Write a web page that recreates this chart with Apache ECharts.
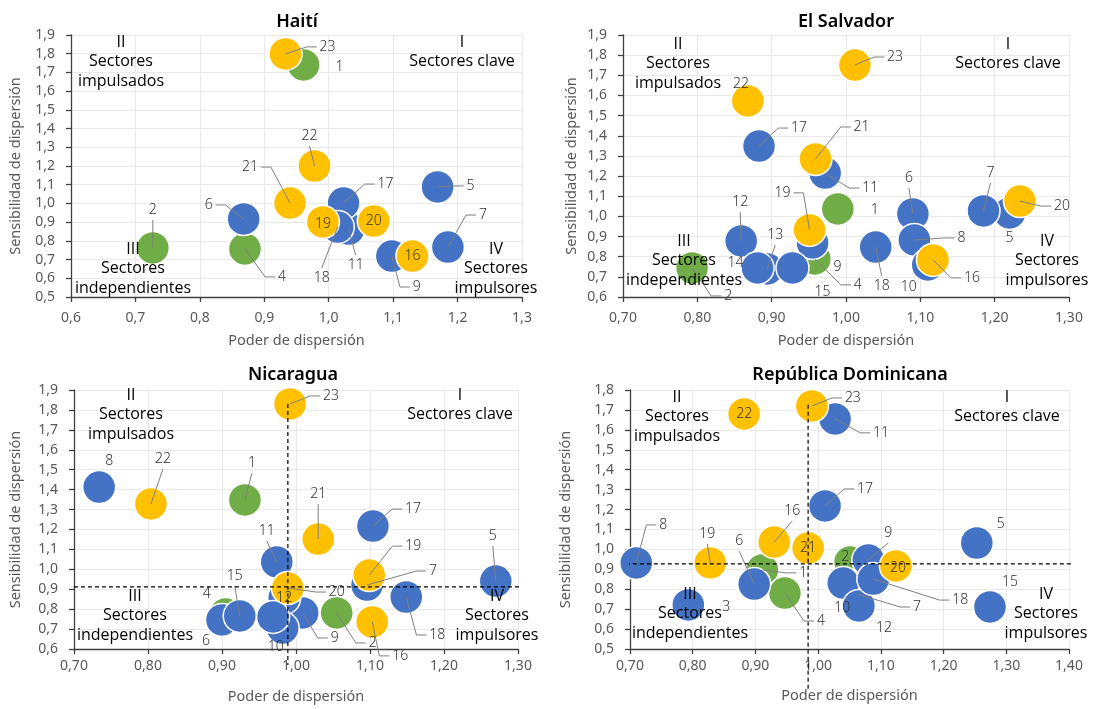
<!DOCTYPE html>
<html><head><meta charset="utf-8">
<script src="https://cdn.jsdelivr.net/npm/echarts@6/dist/echarts.min.js"></script>
<style>html,body{margin:0;padding:0;background:#fff}#c{width:1094px;height:709px}</style>
</head><body><div id="c"></div>
<script>
// ---------------- DATA ----------------
const greenSectors = [1, 2, 4];
const yellowSectors = [16, 19, 20, 21, 22, 23];

const haitiSector = [1, 2, 4, 5, 6, 7, 9, 11, 16, 17, 18, 19, 20, 21, 22, 23];
const haitiX = [0.961, 0.727, 0.870, 1.169, 0.868, 1.185, 1.098, 1.031, 1.130, 1.023, 1.014, 0.991, 1.070, 0.940, 0.978, 0.933];
const haitiY = [1.740, 0.762, 0.757, 1.088, 0.917, 0.767, 0.719, 0.863, 0.719, 1.002, 0.874, 0.901, 0.906, 1.002, 1.200, 1.799];

const salvSector = [1, 2, 4, 5, 6, 7, 8, 9, 10, 11, 12, 13, 14, 15, 16, 17, 18, 19, 20, 21, 22, 23];
const salvX = [0.989, 0.793, 0.958, 1.220, 1.090, 1.185, 1.092, 0.955, 1.110, 0.972, 0.859, 0.894, 0.881, 0.928, 1.117, 0.883, 1.040, 0.951, 1.234, 0.959, 0.868, 1.012];
const salvY = [1.037, 0.744, 0.789, 1.017, 1.012, 1.027, 0.883, 0.868, 0.759, 1.215, 0.878, 0.739, 0.744, 0.744, 0.784, 1.349, 0.848, 0.933, 1.076, 1.285, 1.573, 1.751];

const nicSector = [1, 2, 4, 5, 6, 7, 8, 9, 10, 11, 12, 14, 15, 16, 17, 18, 19, 20, 21, 22, 23];
const nicX = [0.931, 1.055, 0.905, 1.270, 0.900, 1.096, 0.734, 1.009, 0.982, 0.974, 0.984, 0.969, 0.924, 1.103, 1.104, 1.149, 1.099, 0.989, 1.030, 0.804, 0.992];
const nicY = [1.348, 0.781, 0.776, 0.941, 0.746, 0.921, 1.413, 0.781, 0.705, 1.037, 0.856, 0.761, 0.766, 0.736, 1.217, 0.861, 0.971, 0.906, 1.152, 1.328, 1.830];
const nicAvg = [0.989, 0.912];

const rdSector = [1, 2, 3, 4, 5, 6, 7, 8, 9, 10, 11, 12, 15, 16, 17, 18, 19, 20, 21, 22, 23];
const rdX = [0.911, 1.051, 0.793, 0.947, 1.253, 0.898, 1.062, 0.710, 1.080, 1.040, 1.027, 1.065, 1.274, 0.930, 1.011, 1.088, 0.828, 1.124, 0.984, 0.882, 0.990];
const rdY = [0.897, 0.937, 0.721, 0.781, 1.032, 0.826, 0.776, 0.932, 0.947, 0.831, 1.655, 0.716, 0.711, 1.037, 1.218, 0.851, 0.932, 0.917, 1.007, 1.680, 1.720];
const rdAvg = [0.984, 0.927];

const titles = ['Haití', 'El Salvador', 'Nicaragua', 'República Dominicana'];
const xName = 'Poder de dispersión';
const yName = 'Sensibilidad de dispersión';
const quadNames = ['II\nSectores\nimpulsados', 'I\nSectores clave', 'III\nSectores\nindependientes', 'IV\nSectores\nimpulsores'];

// ---------------- LAYOUT (label offsets in px: dx, dy, leader mode) ----------------
const haitiLab = {23:[42,-7,'h'],1:[36,2,''],22:[-5,-30,'v'],21:[-40,-36,'h'],6:[-35,-14,'h'],4:[37,28,'h'],2:[0,-38,'v'],17:[42,-19,'h'],19:[0,2,''],18:[-16,51,'v'],11:[7,36,'v'],20:[0,0,''],5:[33,-1,'h'],7:[35,-32,'h'],9:[25,31,'h'],16:[0,0,'']};
const salvLab = {23:[40,-8,'h'],22:[-7,-17,''],17:[40,-18,'h'],21:[46,-32,'h'],11:[45,15,'h'],1:[37,1,''],6:[-4,-36,'v'],8:[47,-2,'h'],18:[6,39,'v'],10:[-19,22,''],16:[39,18,'h'],7:[7,-38,'v'],5:[0,25,''],20:[42,5,'h'],19:[-27,-37,'h'],12:[-1,-39,'v'],13:[8,-34,'v'],14:[-22,-5,''],15:[30,24,''],9:[25,24,''],4:[43,26,'h'],2:[36,28,'h']};
const nicLab = {23:[41,-8,'h'],8:[10,-26,''],22:[12,-45,'v'],1:[7,-37,'v'],11:[-10,-31,'v'],20:[49,4,'h'],12:[0,0,''],4:[-19,-20,''],6:[-16,21,''],15:[-5,-40,'v'],10:[-7,19,''],9:[32,25,'h'],21:[0,-45,'v'],17:[40,-17,'h'],19:[44,-29,'h'],7:[66,-14,'h'],2:[36,30,'h'],16:[28,34,'h'],18:[31,38,'h'],5:[-3,-45,'v']};
const rdLab = {22:[0,0,''],23:[41,-8,'h'],11:[46,14,'h'],17:[40,-17,'h'],8:[27,-38,'h'],19:[-3,-29,'v'],3:[38,2,''],6:[-15,-43,'v'],1:[41,3,'h'],4:[36,28,'h'],16:[18,-31,'v'],21:[0,0,''],2:[-5,-5,''],9:[20,-27,'v'],20:[2,2,''],18:[87,21,'h'],7:[60,13,'h'],10:[-1,25,''],12:[25,22,''],5:[24,-19,''],15:[20,-25,'']};

const FONT = '"Noto Sans", "DejaVu Sans", sans-serif';
const QFONT = '"Open Sans", "DejaVu Sans", sans-serif';
const COLORS = {green: '#70AD47', blue: '#4472C4', yellow: '#FFC000'};

const panels = [
  {sector: haitiSector, xs: haitiX, ys: haitiY, lab: haitiLab,
   grid: {left: 71, top: 35, width: 451, height: 262}, xMin: 0.6, xMax: 1.3, xDec: 1, yMin: 0.5, yMax: 1.9,
   yGap: 48, xGap: 36, xMargin: 14, title: [297, 22],
   quad: [[121, 42], [462, 42], [133, 249], [496, 249]]},
  {sector: salvSector, xs: salvX, ys: salvY, lab: salvLab,
   grid: {left: 623, top: 35, width: 446, height: 262}, xMin: 0.7, xMax: 1.3, xDec: 2, yMin: 0.6, yMax: 1.9,
   yGap: 44, xGap: 36, xMargin: 14, title: [846, 22],
   quad: [[678, 44], [1008, 44], [684, 241], [1047, 241]]},
  {sector: nicSector, xs: nicX, ys: nicY, lab: nicLab, avg: nicAvg, ext: {x: [0.681, 1.326], y: [0.52, 1.83]},
   grid: {left: 74, top: 390, width: 444, height: 259}, xMin: 0.7, xMax: 1.3, xDec: 2, yMin: 0.6, yMax: 1.9,
   yGap: 51, xGap: 40, xMargin: 10, title: [293, 375],
   quad: [[131, 395], [460, 395], [135, 596], [497, 596]]},
  {sector: rdSector, xs: rdX, ys: rdY, lab: rdLab, avg: rdAvg, ext: {x: [0.671, 1.414], y: [0.294, 1.726]},
   grid: {left: 630, top: 390, width: 439, height: 259}, xMin: 0.7, xMax: 1.4, xDec: 2, yMin: 0.5, yMax: 1.8,
   yGap: 57, xGap: 39, xMargin: 10, title: [850, 375],
   quad: [[677, 397], [1007, 397], [690, 594], [1046, 594]]}
];

function groupOf(id) {
  if (greenSectors.indexOf(id) >= 0) return 'green';
  if (yellowSectors.indexOf(id) >= 0) return 'yellow';
  return 'blue';
}
function fmt(dec) { return v => v.toFixed(dec).replace('.', ','); }

function makeLabelRender(lab) {
  return function (params, api) {
    const id = api.value(2);
    const spec = lab[id];
    if (!spec) return null;
    const p = api.coord([api.value(0), api.value(1)]);
    const lx = p[0] + spec[0], ly = p[1] + spec[1];
    const txt = String(id);
    const w = txt.length * 7.8;
    const children = [];
    const lineStyle = {stroke: '#7f7f7f', lineWidth: 1, fill: null};
    if (spec[2] === 'h') {
      const s = spec[0] >= 0 ? 1 : -1;
      const ex = lx - s * (w / 2 + 3);
      const bx = ex - s * 10;
      children.push({type: 'polyline', shape: {points: [[p[0], p[1]], [bx, ly], [ex, ly]]}, style: lineStyle});
    } else if (spec[2] === 'v') {
      const s = spec[1] >= 0 ? 1 : -1;
      children.push({type: 'line', shape: {x1: p[0], y1: p[1], x2: lx, y2: ly - s * 10}, style: lineStyle});
    }
    children.push({type: 'text', style: {text: txt, x: lx, y: ly, align: 'center', verticalAlign: 'middle',
      fill: '#333333', font: '300 14px ' + FONT}});
    return {type: 'group', children: children};
  };
}

const grid = [], xAxis = [], yAxis = [], series = [], graphic = [];
const axisLineStyle = {color: '#404040', width: 1.3};
panels.forEach((pn, i) => {
  grid.push(Object.assign({containLabel: false}, pn.grid));
  xAxis.push({type: 'value', gridIndex: i, min: pn.xMin, max: pn.xMax, interval: 0.1,
    name: xName, nameLocation: 'middle', nameGap: pn.xGap,
    nameTextStyle: {color: '#595959', fontSize: 14.5, fontFamily: FONT},
    axisLine: {show: true, lineStyle: axisLineStyle},
    axisTick: {show: true, length: 5, lineStyle: axisLineStyle},
    axisLabel: {formatter: fmt(pn.xDec), color: '#595959', fontSize: 14, fontFamily: FONT, margin: pn.xMargin},
    splitLine: {show: true, lineStyle: {color: '#e9e9e9', width: 1}}});
  yAxis.push({type: 'value', gridIndex: i, min: pn.yMin, max: pn.yMax, interval: 0.1,
    name: yName, nameLocation: 'middle', nameGap: pn.yGap,
    nameTextStyle: {color: '#595959', fontSize: 14.5, fontFamily: FONT},
    axisLine: {show: true, lineStyle: axisLineStyle},
    axisTick: {show: true, length: 5, lineStyle: axisLineStyle},
    axisLabel: {formatter: fmt(1), color: '#595959', fontSize: 14, fontFamily: FONT, margin: 16},
    splitLine: {show: true, lineStyle: {color: '#e9e9e9', width: 1}}});

  const all = pn.sector.map((id, k) => [pn.xs[k], pn.ys[k], id]);
  ['green', 'blue', 'yellow'].forEach((g, gi) => {
    series.push({type: 'scatter', xAxisIndex: i, yAxisIndex: i, symbolSize: 33, z: 2 + gi,
      silent: true, clip: false,
      itemStyle: {color: COLORS[g], borderColor: '#ffffff', borderWidth: 1.5, opacity: 1},
      data: all.filter(d => groupOf(d[2]) === g)});
  });
  series.push({type: 'custom', xAxisIndex: i, yAxisIndex: i, z: 10, silent: true, clip: false,
    renderItem: makeLabelRender(pn.lab), data: all, encode: {x: 0, y: 1}});
  if (pn.avg) {
    const ls = {color: '#000', width: 1.2, type: [4, 3]};
    series.push({type: 'line', xAxisIndex: i, yAxisIndex: i, z: 12, silent: true, clip: false, symbol: 'none',
      lineStyle: ls, data: [[pn.ext.x[0], pn.avg[1]], [pn.ext.x[1], pn.avg[1]]]});
    series.push({type: 'line', xAxisIndex: i, yAxisIndex: i, z: 12, silent: true, clip: false, symbol: 'none',
      lineStyle: ls, data: [[pn.avg[0], pn.ext.y[1]], [pn.avg[0], pn.ext.y[0]]]});
  }
  graphic.push({type: 'text', x: pn.title[0], y: pn.title[1], z: 100,
    style: {text: titles[i], align: 'center', verticalAlign: 'middle', fill: '#000', font: '600 18px ' + FONT}});
  pn.quad.forEach((q, k) => {
    graphic.push({type: 'text', x: q[0], y: q[1] - 9.75, z: 100,
      style: {text: quadNames[k], align: 'center', verticalAlign: 'top', lineHeight: 19.5,
        fill: '#000', font: '16px ' + QFONT}});
  });
});

const chart = echarts.init(document.getElementById('c'), null, {renderer: 'canvas'});
chart.setOption({
  animation: false,
  backgroundColor: '#ffffff',
  textStyle: {fontFamily: FONT},
  grid: grid, xAxis: xAxis, yAxis: yAxis, series: series, graphic: graphic
});
</script></body></html>
